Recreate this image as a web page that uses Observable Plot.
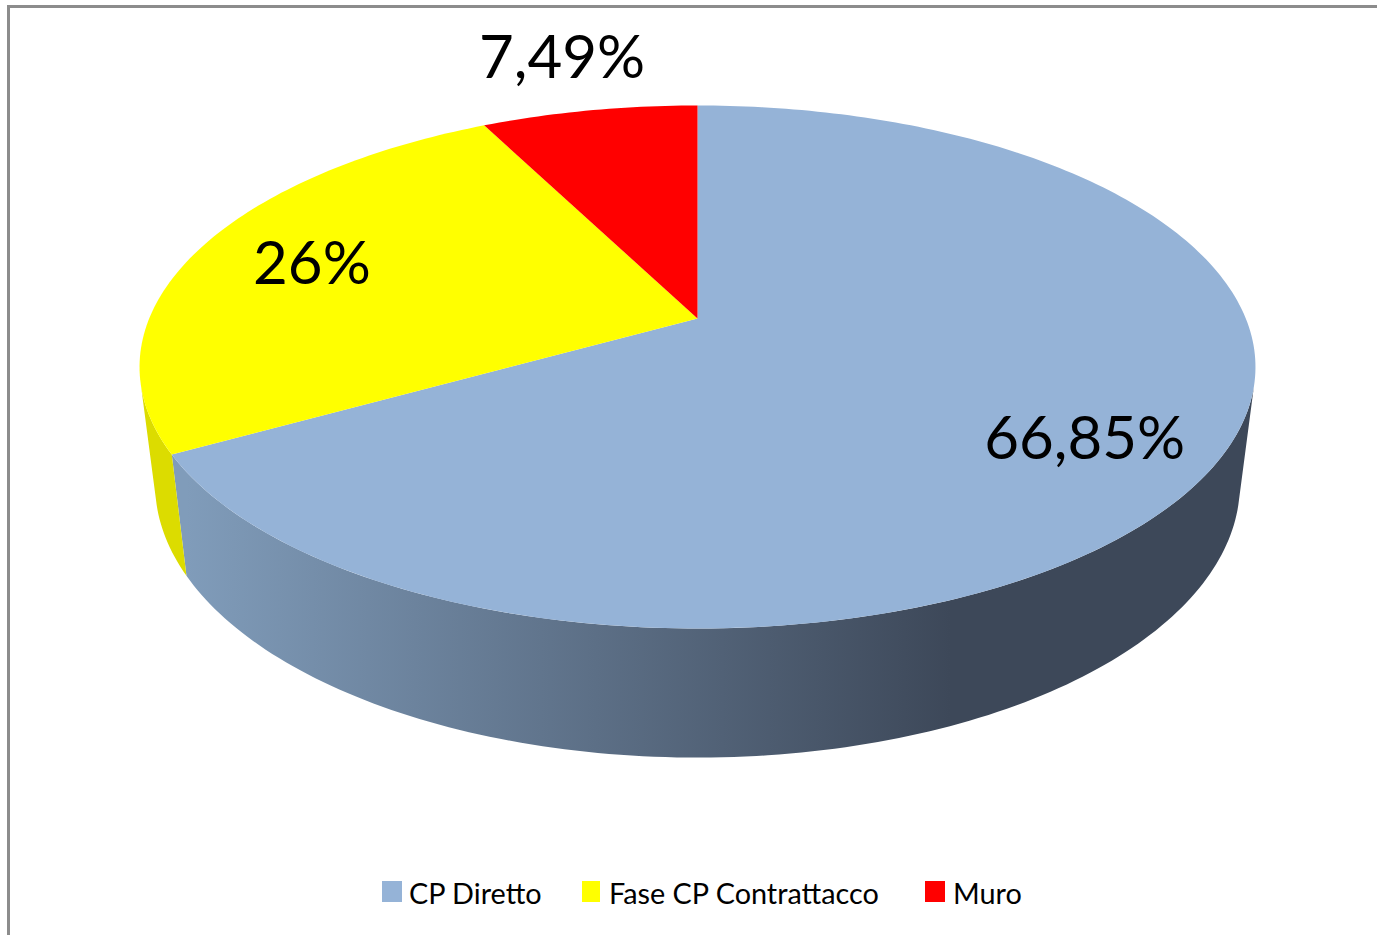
<!DOCTYPE html>
<html>
<head>
<meta charset="utf-8">
<script src="https://cdn.jsdelivr.net/npm/d3@7"></script>
<script src="https://cdn.jsdelivr.net/npm/@observablehq/plot@0.6"></script>
<style>
html,body{margin:0;padding:0;background:#fff;overflow:hidden;width:1377px;height:935px}
#frame{position:absolute;left:7px;top:5px;right:0;bottom:0;border-left:3px solid #8c8c8c;border-top:3px solid #8c8c8c}
#chart{position:absolute;left:0;top:0}
#chart svg{background:none;display:block}
#legend{position:absolute;left:0;top:878px;width:1377px;height:30px;font:28.8px Lato,sans-serif;color:#000}
#legend .sw{position:absolute;top:3px;height:21px}
#legend .tx{position:absolute;top:0;line-height:30px;white-space:nowrap;transform-origin:left center}
</style>
</head>
<body>
<div id="frame"></div>
<div id="chart"></div>
<div id="legend"></div>
<script>
// Data
const categories = ["CP Diretto", "Fase CP Contrattacco", "Muro"];
const shares = [66.85, 25.66, 7.49];
const valueLabels = ["66,85%", "26%", "7,49%"];
const colors = ["#95b3d7", "#ffff00", "#ff0000"];
const sideColors = ["url(#sideShade)", "#dcdc00", "none"];
const labelRadii = [0.76, 0.765, 1.31];
const labelDy = [17, 0, 1];

// Pie geometry (perspective projection of a tilted disc)
const W = 1377, H = 860;
const cx = 697, tilt = 0.1854;
const topFace = {x0: 0, y0: 318, a: 548.3, b: 252.5};
const lowFace = {x0: 0, y0: 433, a: 533, b: 264};
const rimLimit = 105; // degrees either side of the front where the side wall ends

function project(face, deg, r = 1) {
  const t = deg * Math.PI / 180;
  const u = r * Math.sin(t), v = r * Math.cos(t), w = 1 + tilt * v;
  return {x: cx + face.a * u / w, y: face.y0 - face.b * v / w};
}
function arc(face, a0, a1) {
  const n = Math.max(2, Math.ceil(Math.abs(a1 - a0)));
  return d3.range(n + 1).map(i => project(face, a0 + (a1 - a0) * i / n));
}

// Slices from values, clockwise from twelve o'clock
let acc = 0;
const total = d3.sum(shares);
const slices = shares.map((s, i) => {
  const a0 = acc / total * 360; acc += s;
  const a1 = acc / total * 360;
  return {i, a0, a1, mid: (a0 + a1) / 2};
});

const topPolys = slices.map(s => [project(topFace, 0, 0), ...arc(topFace, s.a0, s.a1)]);
const sidePolys = slices.map(s => {
  const a0 = Math.max(s.a0, rimLimit), a1 = Math.min(s.a1, 360 - rimLimit);
  return a1 > a0 ? [...arc(topFace, a0, a1), ...arc(lowFace, a1, a0)] : [];
});
const labelRows = slices.map(s => ({
  ...project(topFace, s.mid, labelRadii[s.i]),
  text: valueLabels[s.i],
  dy: labelDy[s.i]
}));

const defs = () => {
  const d = d3.create("svg:defs");
  const g = d.append("linearGradient").attr("id", "sideShade")
    .attr("gradientUnits", "userSpaceOnUse")
    .attr("x1", 186).attr("x2", 950).attr("y1", 0).attr("y2", 0);
  g.append("stop").attr("offset", 0).attr("stop-color", "#809cba");
  g.append("stop").attr("offset", 1).attr("stop-color", "#3d4859");
  return d.node();
};

const polyMark = (pts, fill) => Plot.line(pts, {
  x: "x", y: "y", fill, stroke: "none", curve: "linear-closed"
});

const plot = Plot.plot({
  width: W, height: H, margin: 0,
  x: {domain: [0, W], range: [0, W], axis: null},
  y: {domain: [0, H], range: [0, H], axis: null},
  style: {background: "none"},
  marks: [
    defs,
    ...sidePolys.map((p, i) => p.length ? polyMark(p, sideColors[i]) : null),
    ...topPolys.map((p, i) => polyMark(p, colors[i])),
    ...labelRows.map(r => Plot.text([r], {
      x: "x", y: "y", text: "text", dy: r.dy,
      fontFamily: "Lato", fontSize: 60, fill: "#000",
      textAnchor: "middle", lineAnchor: "middle"
    }))
  ]
});
document.getElementById("chart").append(plot);

// Legend
const swatchX = [382, 582, 925], swatchW = [20, 18, 20], textX = [409, 609, 953];
const legend = d3.select("#legend");
categories.forEach((c, i) => {
  legend.append("span").attr("class", "sw")
    .style("left", swatchX[i] + "px").style("width", swatchW[i] + "px")
    .style("background", colors[i]);
  legend.append("span").attr("class", "tx")
    .style("left", textX[i] + "px").text(c);
});
</script>
</body>
</html>
